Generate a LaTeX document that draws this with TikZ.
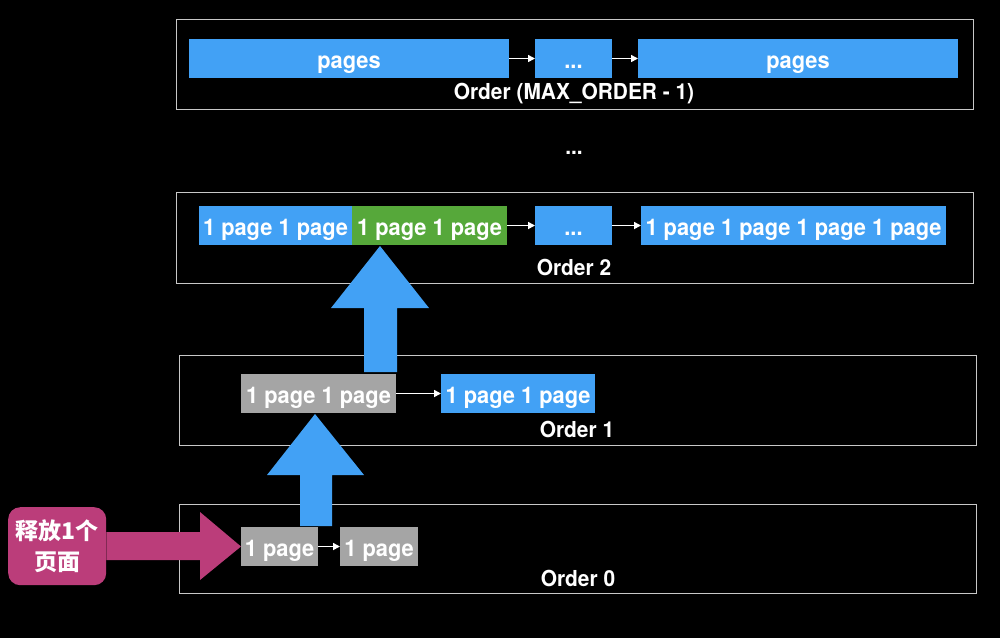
\documentclass[tikz,border=0pt]{standalone}
\usepackage{fontspec}
\setmainfont{TeX Gyre Heros}
\newfontfamily\blkfont[FakeStretch=0.95]{TeX Gyre Heros}
\newfontfamily\cjk{Noto Sans CJK SC}
\usetikzlibrary{arrows.meta}
\definecolor{bblue}{HTML}{42A1F5}
\definecolor{bgreen}{HTML}{56A83A}
\definecolor{bgray}{HTML}{A5A5A5}
\definecolor{bmag}{HTML}{BB3D7A}
\definecolor{fline}{HTML}{C8C8C8}
\tikzset{
  blk/.style={anchor=north west, minimum height=39, inner sep=0, outer sep=0, text=white,
    text height=19pt, text depth=0pt,
    font=\blkfont\fontsize{23}{27}\selectfont\bfseries},
  blue/.style={blk, fill=bblue},
  green/.style={blk, fill=bgreen},
  grayb/.style={blk, fill=bgray},
  frame/.style={draw=fline, line width=0.9pt, anchor=north west, inner sep=0},
  lbl/.style={text=white, font=\blkfont\fontsize{22}{26}\selectfont\bfseries, inner sep=0},
  link/.style={draw=white, line width=1.6pt, -{Triangle[length=7pt,width=7pt]}},
}
\begin{document}
\begin{tikzpicture}[x=1pt,y=-1pt]
\fill[black] (0,0) rectangle (1000,638);
\useasboundingbox (0,0) rectangle (1000,638);
% frames
\node[frame, minimum width=797, minimum height=90] (f3) at (176,19) {};
\node[frame, minimum width=797, minimum height=91] (f2) at (176,192) {};
\node[frame, minimum width=797, minimum height=90] (f1) at (179,355) {};
\node[frame, minimum width=797, minimum height=89] (f0) at (179,504) {};
% top row
\node[blue, minimum width=320] (p1) at (189,39) {pages};
\node[blue, minimum width=77] (pd) at (535,39) {...};
\node[blue, minimum width=320] (p2) at (638,39) {pages};
\node[lbl] (l3) at (574,94) {Order (MAX\_ORDER - 1)};
\draw[link] (p1.east) -- (pd.west);
\draw[link] (pd.east) -- (p2.west);
% middle dots
\node[lbl] (mdots) at (574,153) {...};
% order 2
\node[blue, minimum width=153] (o2a) at (199,206) {1 page 1 page};
\node[green, minimum width=155] (o2b) at (352,206) {1 page 1 page};
\node[blue, minimum width=77] (o2d) at (535,206) {...};
\node[blue, minimum width=305] (o2c) at (641,206) {1 page 1 page 1 page 1 page};
\node[lbl] (l2) at (574,267) {Order 2};
\draw[link] (o2b.east) -- (o2d.west);
\draw[link] (o2d.east) -- (o2c.west);
% order 1
\node[grayb, minimum width=155] (o1a) at (241,374) {1 page 1 page};
\node[blue, minimum width=154] (o1b) at (441,374) {1 page 1 page};
\node[lbl] (l1) at (577,429) {Order 1};
\draw[link] (o1a.east) -- (o1b.west);
% order 0
\node[grayb, minimum width=77] (o0a) at (241,527) {1 page};
\node[grayb, minimum width=78] (o0b) at (340,527) {1 page};
\node[lbl] (l0) at (578,578) {Order 0};
\draw[link] (o0a.east) -- (o0b.west);
% big blue arrows
\fill[bblue] (364,372) -- (364,308) -- (331,308) -- (380,246) -- (429,308) -- (397,308) -- (397,372) -- cycle;
\fill[bblue] (300,526) -- (300,475) -- (267,475) -- (315,414) -- (364,475) -- (332,475) -- (332,526) -- cycle;
% magenta box and arrow
\node[fill=bmag, rounded corners=12, minimum width=98, minimum height=78, inner sep=0,
  anchor=north west, text=white, align=center,
  font=\fontsize{23}{31}\selectfont\cjk\bfseries] (rel) at (8,507) {释放1个\\页面};
\fill[bmag] (rel.east |- 0,532) -- (200,532) -- (200,512) -- (o0a.west) -- (200,580) -- (200,560) -- (rel.east |- 0,560) -- cycle;
\end{tikzpicture}
\end{document}
